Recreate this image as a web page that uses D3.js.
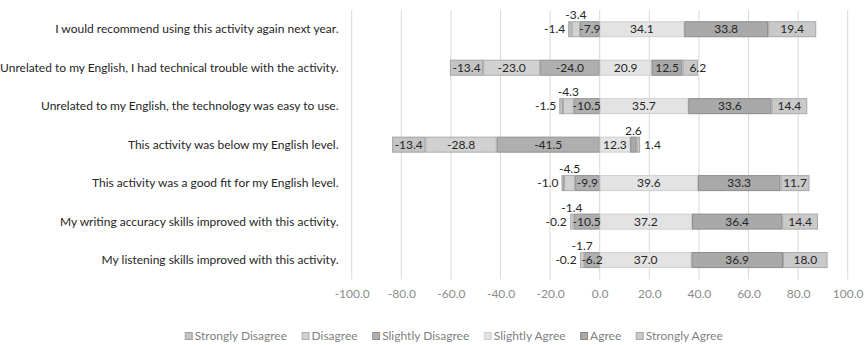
<!DOCTYPE html>
<html>
<head>
<meta charset="utf-8">
<script src="https://cdn.jsdelivr.net/npm/d3@7"></script>
<style>
  html, body { margin: 0; padding: 0; background: #ffffff; }
  svg { display: block; }
  text { font-family: Lato, "Open Sans", sans-serif; }
</style>
</head>
<body>
<svg id="chart" width="864" height="345"></svg>
<script>
// Survey statements (top to bottom)
const categories = [
  "I would recommend using this activity again next year.",
  "Unrelated to my English, I had technical trouble with the activity.",
  "Unrelated to my English, the technology was easy to use.",
  "This activity was below my English level.",
  "This activity was a good fit for my English level.",
  "My writing accuracy skills improved with this activity.",
  "My listening skills improved with this activity."
];

// Percent of responses per answer, disagreement shown as negative values
const stronglyDisagree = [-1.4, -13.4, -1.5, -13.4, -1.0, -0.2, -0.2];
const disagree         = [-3.4, -23.0, -4.3, -28.8, -4.5, -1.4, -1.7];
const slightlyDisagree = [-7.9, -24.0, -10.5, -41.5, -9.9, -10.5, -6.2];
const slightlyAgree    = [34.1, 20.9, 35.7, 12.3, 39.6, 37.2, 37.0];
const agree            = [33.8, 12.5, 33.6, 2.6, 33.3, 36.4, 36.9];
const stronglyAgree    = [19.4, 6.2, 14.4, 1.4, 11.7, 14.4, 18.0];

const seriesNames = ["Strongly Disagree", "Disagree", "Slightly Disagree",
                     "Slightly Agree", "Agree", "Strongly Agree"];
const xTicks = [-100, -80, -60, -40, -20, 0, 20, 40, 60, 80, 100];

const series = [
  { name: seriesNames[0], values: stronglyDisagree, fill: "#c4c4c4", stroke: "#a3a3a3", role: "outerNeg" },
  { name: seriesNames[1], values: disagree,         fill: "#d1d1d1", stroke: "#ababab", role: "midNeg" },
  { name: seriesNames[2], values: slightlyDisagree, fill: "#afafaf", stroke: "#909090", role: "innerNeg" },
  { name: seriesNames[3], values: slightlyAgree,    fill: "#e3e3e3", stroke: "#cfcfcf", role: "innerPos" },
  { name: seriesNames[4], values: agree,            fill: "#a9a9a9", stroke: "#8a8a8a", role: "midPos" },
  { name: seriesNames[5], values: stronglyAgree,    fill: "#c9c9c9", stroke: "#a8a8a8", role: "outerPos" }
];

const svg = d3.select("#chart");
const plot = { left: 351.7, right: 847.7, top: 10, bottom: 279.3 };

// One decimal, with a plain hyphen for negatives
const fmt1 = d3.format(".1f");
const fmt = v => fmt1(v).replace("\u2212", "-");

const x = d3.scaleLinear().domain([-100, 100]).range([plot.left, plot.right]);
const y = d3.scaleBand().domain(categories).range([plot.top, plot.bottom])
  .paddingInner(0.584).paddingOuter(0.292);

// Vertical gridlines
svg.append("g").selectAll("line").data(xTicks).join("line")
  .attr("x1", d => x(d)).attr("x2", d => x(d))
  .attr("y1", plot.top).attr("y2", plot.bottom)
  .attr("stroke", "#d9d9d9").attr("stroke-width", 1);

// Tick labels along the bottom
const xAxis = d3.axisBottom(x).tickValues(xTicks).tickFormat(fmt).tickSize(0).tickPadding(0);
const gx = svg.append("g").attr("transform", `translate(0,${plot.bottom + 10})`).call(xAxis);
gx.select(".domain").remove();
gx.selectAll("text").attr("fill", "#8c8c8c").attr("font-size", 12)
  .attr("font-family", "Lato, 'Open Sans', sans-serif");

// Category labels
svg.append("g").selectAll("text").data(categories).join("text")
  .attr("x", 338.5).attr("y", d => y(d) + y.bandwidth() / 2)
  .attr("dy", "0.35em").attr("text-anchor", "end")
  .attr("font-size", 12).attr("fill", "#262626")
  .text(d => d);

// Build segments: disagreement stacks leftward from zero, agreement rightward
const segments = [];
categories.forEach((cat, i) => {
  let neg = 0, pos = 0;
  [series[2], series[1], series[0]].forEach(s => {
    const v = s.values[i];
    segments.push({ cat, i, s, v, x0: neg + v, x1: neg });
    neg += v;
  });
  [series[3], series[4], series[5]].forEach(s => {
    const v = s.values[i];
    segments.push({ cat, i, s, v, x0: pos, x1: pos + v });
    pos += v;
  });
});

const bars = svg.append("g");
bars.selectAll("rect").data(segments).join("rect")
  .attr("x", d => x(d.x0) + 0.5)
  .attr("y", d => y(d.cat) + 0.5)
  .attr("width", d => Math.max(0, x(d.x1) - x(d.x0) - 1))
  .attr("height", y.bandwidth() - 1)
  .attr("fill", d => d.s.fill)
  .attr("stroke", d => d.s.stroke)
  .attr("stroke-width", 1);

// Value labels: inside when the segment has room, otherwise moved beside or above the bar
const labels = svg.append("g");
segments.forEach(d => {
  const w = x(d.x1) - x(d.x0);
  const top = y(d.cat);
  const mid = top + y.bandwidth() / 2;
  const t = labels.append("text")
    .attr("font-size", 12).attr("fill", "#262626")
    .text(fmt(d.v));
  const tw = t.node().getComputedTextLength();
  if (w >= 12) {
    let cx = (x(d.x0) + x(d.x1)) / 2;
    if (d.s.role === "outerPos" && w < tw) cx = x(d.x1);
    t.attr("x", cx).attr("y", mid).attr("dy", "0.35em").attr("text-anchor", "middle");
  } else if (d.s.role === "outerNeg") {
    t.attr("x", x(d.x0) - 3).attr("y", mid).attr("dy", "0.35em").attr("text-anchor", "end");
  } else if (d.s.role === "outerPos") {
    t.attr("x", x(d.x1) + 4).attr("y", mid).attr("dy", "0.35em").attr("text-anchor", "start");
  } else {
    t.attr("x", (x(d.x0) + x(d.x1)) / 2).attr("y", top - 2).attr("text-anchor", "middle");
  }
});

// Legend, centred beneath the plot
const legend = svg.append("g").attr("transform", "translate(0,336)");
const items = legend.selectAll("g").data(series).join("g");
items.append("rect")
  .attr("x", 0.5).attr("y", -3.5).attr("width", 7).attr("height", 7)
  .attr("fill", d => d.fill).attr("stroke", d => d.stroke);
items.append("text")
  .attr("x", 10).attr("dy", "0.35em")
  .attr("font-size", 12).attr("fill", "#7f7f7f")
  .text(d => d.name);
const gap = 15;
const widths = [];
items.each(function () { widths.push(this.getBBox().width); });
const total = d3.sum(widths) + gap * (widths.length - 1);
let cursor = 453.5 - total / 2;
items.attr("transform", (d, k) => {
  const tx = cursor;
  cursor += widths[k] + gap;
  return `translate(${tx},0)`;
});
</script>
</body>
</html>
